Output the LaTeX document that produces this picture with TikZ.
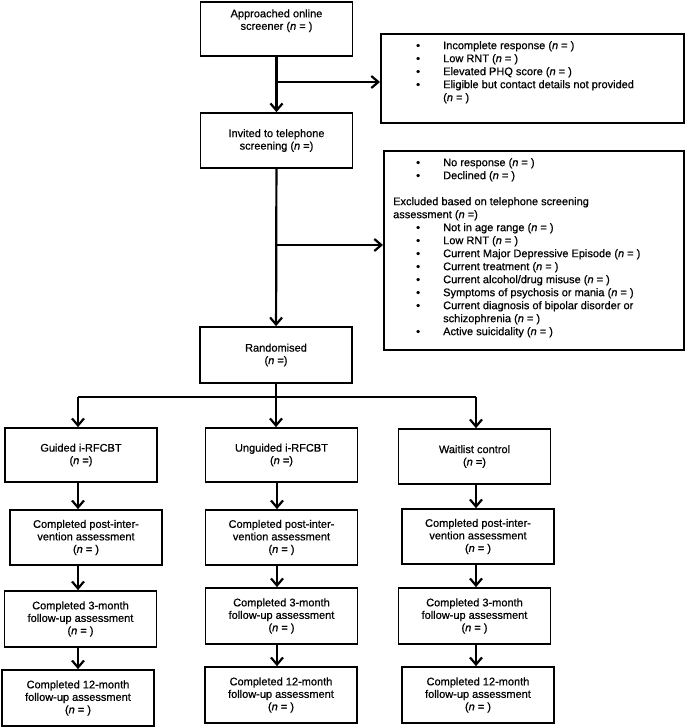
\documentclass[tikz,border=0pt]{standalone}
\usepackage{fontspec}
\setmainfont{Liberation Sans}[FakeBold=0.7]
\usetikzlibrary{arrows.meta}

\tikzset{
  box/.style={draw, line width=1.7pt, minimum width=152pt, minimum height=55pt, inner sep=2pt, align=center, font=\fontsize{11}{12.5}\selectfont},
  boxtext/.style={inner sep=0pt, align=center, font=\fontsize{11}{12.5}\selectfont},
  listbox/.style={draw, line width=1.7pt, anchor=north west, inner sep=0pt},
  listtext/.style={anchor=north west, inner sep=0pt, align=left, font=\fontsize{11}{13}\selectfont},
  link/.style={line width=2pt},
  flow/.style={line width=2.2pt, -{Straight Barb[length=7pt,width=12pt]}}
}
\newcommand{\bitem}{\hspace*{23pt}\makebox[27pt][l]{\textbullet}}
\newcommand{\bcont}{\hspace*{50pt}}

\begin{document}
\begin{tikzpicture}[x=1pt,y=-1pt]
 \useasboundingbox (0,0) rectangle (685,728);
 % screening stages
 \node[box, minimum height=54pt] (approached) at (276.5,29) {};
 \node[boxtext, anchor=north] (approachedtext) at ([yshift=-8pt]approached.north) {Approached online\\screener (\textit{n} = )};
 \node[box] (invited) at (276.5,140.5) {Invited to telephone\\screening (\textit{n} =)};
 \node[box, minimum height=56pt] (randomised) at (276,355) {Randomised\\(\textit{n} =)};
 % exclusions
 \node[listbox, minimum width=303pt, minimum height=89pt] (screenexcl) at (380,33) {};
 \node[listtext] (screenexcltext) at (393,41) {%
  \bitem Incomplete response (\textit{n} = )\\
  \bitem Low RNT (\textit{n} = )\\
  \bitem Elevated PHQ score (\textit{n} = )\\
  \bitem Eligible but contact details not provided\\
  \bcont (\textit{n} = )};
 \node[listbox, minimum width=300pt, minimum height=199pt] (phoneexcl) at (383,150) {};
 \node[listtext] (phoneexcltext) at (393,158) {%
  \bitem No response (\textit{n} = )\\
  \bitem Declined (\textit{n} = )\\[13pt]
  Excluded based on telephone screening\\
  assessment (\textit{n} =)\\
  \bitem Not in age range (\textit{n} = )\\
  \bitem Low RNT (\textit{n} = )\\
  \bitem Current Major Depressive Episode (\textit{n} = )\\
  \bitem Current treatment (\textit{n} = )\\
  \bitem Current alcohol/drug misuse (\textit{n} = )\\
  \bitem Symptoms of psychosis or mania (\textit{n} = )\\
  \bitem Current diagnosis of bipolar disorder or\\
  \bcont schizophrenia (\textit{n} = )\\
  \bitem Active suicidality (\textit{n} = )};
 % guided arm
 \node[box, minimum height=54pt] (guided) at (81,455) {Guided i-RFCBT\\(\textit{n} =)};
 \node[box] (guidedpost) at (86,537.5) {Completed post-inter-\\vention assessment\\(\textit{n} = )};
 \node[box, minimum height=56pt] (guidedthree) at (80.5,619) {Completed 3-month\\follow-up assessment\\(\textit{n} = )};
 \node[box, minimum height=56pt] (guidedtwelve) at (78,698) {Completed 12-month\\follow-up assessment\\(\textit{n} = )};
 % unguided arm
 \node[box, minimum height=54pt] (unguided) at (281.5,455) {Unguided i-RFCBT\\(\textit{n} =)};
 \node[box] (unguidedpost) at (281.5,537.5) {Completed post-inter-\\vention assessment\\(\textit{n} = )};
 \node[box, minimum height=56pt] (unguidedthree) at (281.5,616) {Completed 3-month\\follow-up assessment\\(\textit{n} = )};
 \node[box, minimum height=56pt] (unguidedtwelve) at (281,695) {Completed 12-month\\follow-up assessment\\(\textit{n} = )};
 % waitlist arm
 \node[box] (waitlist) at (474.5,456.5) {Waitlist control\\(\textit{n} =)};
 \node[box] (waitlistpost) at (478,536.5) {Completed post-inter-\\vention assessment\\(\textit{n} = )};
 \node[box, minimum height=56pt] (waitlistthree) at (474.5,616) {Completed 3-month\\follow-up assessment\\(\textit{n} = )};
 \node[box, minimum height=56pt] (waitlisttwelve) at (478,695) {Completed 12-month\\follow-up assessment\\(\textit{n} = )};
 % connectors
 \coordinate (splitone) at (276.5,82);
 \coordinate (splittwo) at (276.5,245);
 \coordinate (gcol) at (78,397);
 \coordinate (ucol) at (277,397);
 \coordinate (wcol) at (476,397);
 \draw[flow] (approached) -- (invited);
 \draw[flow] (splitone) -- (splitone -| screenexcl.west);
 \draw[flow] (invited) -- (randomised);
 \draw[flow] (splittwo) -- (splittwo -| phoneexcl.west);
 \draw[link] (gcol) -- (wcol);
 \draw[flow] (randomised.south) -- (randomised.south |- unguided.north);
 \draw[flow] (gcol) -- (gcol |- guided.north);
 \draw[flow] (wcol) -- (wcol |- waitlist.north);
 \draw[flow] (guided.south -| gcol) -- (guidedpost.north -| gcol);
 \draw[flow] (guidedpost.south -| gcol) -- (guidedthree.north -| gcol);
 \draw[flow] (guidedthree.south -| gcol) -- (guidedtwelve.north -| gcol);
 \draw[flow] (unguided.south -| ucol) -- (unguidedpost.north -| ucol);
 \draw[flow] (unguidedpost.south -| ucol) -- (unguidedthree.north -| ucol);
 \draw[flow] (unguidedthree.south -| ucol) -- (unguidedtwelve.north -| ucol);
 \draw[flow] (waitlist.south -| wcol) -- (waitlistpost.north -| wcol);
 \draw[flow] (waitlistpost.south -| wcol) -- (waitlistthree.north -| wcol);
 \draw[flow] (waitlistthree.south -| wcol) -- (waitlisttwelve.north -| wcol);
\end{tikzpicture}
\end{document}
